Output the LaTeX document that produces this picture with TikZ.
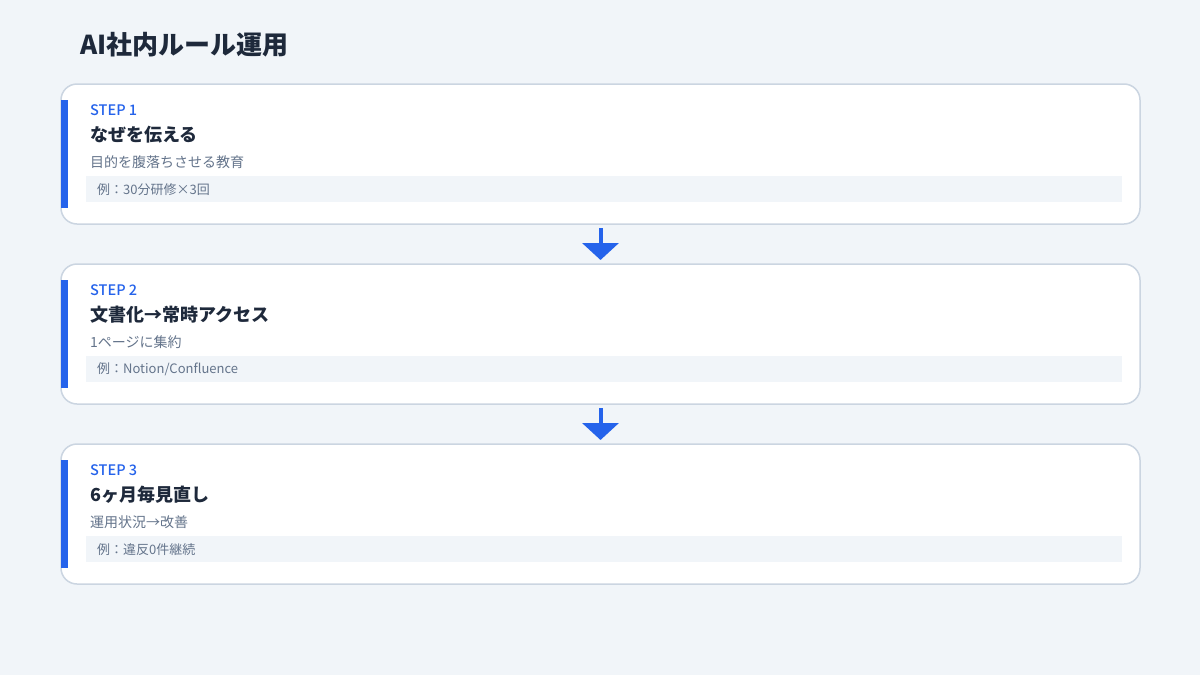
\documentclass[tikz,border=0pt]{standalone}
\usepackage{fontspec}
\setmainfont{Noto Sans CJK JP}
\newfontfamily\stepfont{Noto Sans CJK JP Medium}
\usetikzlibrary{positioning, arrows.meta}

\definecolor{pagebg}{HTML}{F1F5F9}
\definecolor{cardline}{HTML}{CBD5E1}
\definecolor{accent}{HTML}{2563EB}
\definecolor{ink}{HTML}{1E293B}
\definecolor{muted}{HTML}{64748B}

\begin{document}
\begin{tikzpicture}[x=1pt,y=1pt,node distance=40pt,>={Triangle[width=36pt,length=17pt]},
    card/.style={draw=cardline,line width=1.5pt,fill=white,rounded corners=16pt,minimum width=1079pt,minimum height=140pt,outer sep=0pt},
    bar/.style={fill=accent,minimum width=7pt,minimum height=108pt,inner sep=0pt,outer sep=0pt,anchor=west},
    steplabel/.style={anchor=base west,inner sep=0pt,text=accent,font=\fontsize{14.5}{16}\stepfont},
    headline/.style={anchor=base west,inner sep=0pt,text=ink,font=\fontsize{18}{20}\selectfont\bfseries},
    subline/.style={anchor=base west,inner sep=0pt,text=muted,font=\fontsize{14}{15}\selectfont},
    example/.style={anchor=north west,fill=pagebg,text=muted,font=\fontsize{13}{14}\selectfont,text width=1014pt,inner xsep=11pt,inner ysep=0pt,minimum height=26pt,align=left},
    flow/.style={->,draw=accent,line width=4pt,shorten <=4pt,shorten >=4pt}]

\fill[pagebg] (0,0) rectangle (1200,-675);
\useasboundingbox (0,0) rectangle (1200,-675);

\node[anchor=base west,inner sep=0pt,text=ink,font=\fontsize{26}{28}\selectfont\bfseries] (title) at (80,-54) {AI社内ルール運用};

\node[card]                  (step1) at (600.5,-154) {};
\node[card]                  (step2) [below=of step1] {};
\node[card]                  (step3) [below=of step2] {};

\node[bar]      (bar1) at (step1.west) {};
\node[steplabel] (lab1) at ([xshift=29pt,yshift=-31pt]step1.north west) {STEP 1};
\node[headline]  (head1) at ([xshift=29pt,yshift=-57pt]step1.north west) {なぜを伝える};
\node[subline]   (sub1) at ([xshift=29pt,yshift=-83pt]step1.north west) {目的を腹落ちさせる教育};
\node[example]   (ex1) at ([xshift=25pt,yshift=-92pt]step1.north west) {例：30分研修×3回};

\node[bar]      (bar2) at (step2.west) {};
\node[steplabel] (lab2) at ([xshift=29pt,yshift=-31pt]step2.north west) {STEP 2};
\node[headline]  (head2) at ([xshift=29pt,yshift=-57pt]step2.north west) {文書化→常時アクセス};
\node[subline]   (sub2) at ([xshift=29pt,yshift=-83pt]step2.north west) {1ページに集約};
\node[example]   (ex2) at ([xshift=25pt,yshift=-92pt]step2.north west) {例：Notion/Confluence};

\node[bar]      (bar3) at (step3.west) {};
\node[steplabel] (lab3) at ([xshift=29pt,yshift=-31pt]step3.north west) {STEP 3};
\node[headline]  (head3) at ([xshift=29pt,yshift=-57pt]step3.north west) {6ヶ月毎見直し};
\node[subline]   (sub3) at ([xshift=29pt,yshift=-83pt]step3.north west) {運用状況→改善};
\node[example]   (ex3) at ([xshift=25pt,yshift=-92pt]step3.north west) {例：違反0件継続};

\path
(step1) edge[flow] (step2)
(step2) edge[flow] (step3)
;
\end{tikzpicture}
\end{document}
